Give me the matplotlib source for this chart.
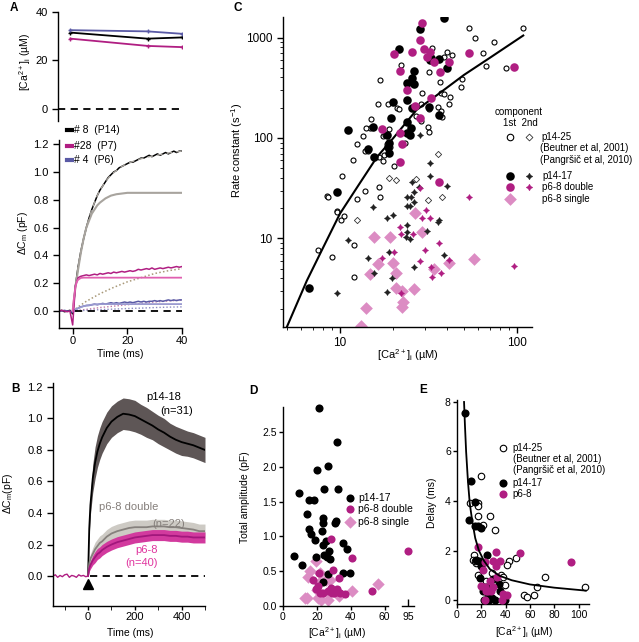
import numpy as np
import matplotlib
matplotlib.use("Agg")
import matplotlib.pyplot as plt
from matplotlib.ticker import FixedLocator, NullFormatter, FormatStrFormatter, LogLocator

plt.rcParams['font.family'] = ['Liberation Sans', 'DejaVu Sans']
plt.rcParams['mathtext.fontset'] = 'custom'
plt.rcParams['mathtext.rm'] = 'Liberation Sans'
plt.rcParams['mathtext.it'] = 'Liberation Sans'
plt.rcParams['axes.linewidth'] = 1.0
plt.rcParams['xtick.major.width'] = 1.0
plt.rcParams['ytick.major.width'] = 1.0

MAG = '#b01e82'
PINK = '#dc8cc3'
BLUE = '#5a5aa5'
GRAYFIT = '#a8a49e'

# ---------------- panel A: [Ca]i over time
ca_t = [-0.5, 27.5, 40]
ca_p14 = [31.5, 29.0, 29.5]
ca_p7 = [29.0, 26.0, 25.5]
ca_p6 = [32.5, 32.0, 31.0]

# ---------------- panel A: capacitance traces
ta = np.arange(-5, 41)
cm_p14 = [0, 0.005, -0.005, 0, 0.005, -0.02, 0.18, 0.32, 0.43, 0.52, 0.60, 0.67, 0.73, 0.78, 0.83,
          0.87, 0.90, 0.93, 0.96, 0.98, 1.00, 1.01, 1.03, 1.04, 1.05, 1.06, 1.07, 1.07, 1.08, 1.09,
          1.10, 1.10, 1.11, 1.12, 1.11, 1.12, 1.13, 1.12, 1.13, 1.14, 1.13, 1.14, 1.15, 1.14, 1.15, 1.15]
cm_p7 = [0, 0.005, 0, -0.005, 0, -0.10, 0.18, 0.24, 0.25, 0.255, 0.26, 0.255, 0.26, 0.265, 0.26,
         0.27, 0.265, 0.27, 0.275, 0.27, 0.28, 0.275, 0.28, 0.285, 0.28, 0.285, 0.29, 0.285, 0.29, 0.30,
         0.295, 0.30, 0.305, 0.30, 0.31, 0.30, 0.305, 0.31, 0.305, 0.31, 0.315, 0.31, 0.315, 0.32, 0.315, 0.32]
cm_p6 = [0, 0, 0.005, 0, 0, -0.01, 0.01, 0.02, 0.03, 0.035, 0.04, 0.04, 0.045, 0.05, 0.045,
         0.05, 0.055, 0.05, 0.055, 0.06, 0.055, 0.06, 0.055, 0.06, 0.065, 0.06, 0.065, 0.06, 0.065, 0.07,
         0.065, 0.07, 0.065, 0.07, 0.07, 0.075, 0.07, 0.075, 0.07, 0.075, 0.08, 0.075, 0.08, 0.075, 0.08, 0.08]
fit_t = [0, 1, 2, 3, 4, 5, 6, 7, 8, 9, 10, 12, 14, 16, 18, 20, 24, 28, 32, 36, 40]
fit2_p14 = [0, 0.18, 0.32, 0.43, 0.52, 0.60, 0.67, 0.73, 0.78, 0.83, 0.87, 0.93, 0.98, 1.01, 1.04,
            1.06, 1.09, 1.11, 1.125, 1.14, 1.15]
fit1_p14 = [0, 0.17, 0.30, 0.42, 0.52, 0.60, 0.65, 0.70, 0.73, 0.76, 0.78, 0.81, 0.83, 0.84, 0.845,
            0.85, 0.85, 0.85, 0.85, 0.85, 0.85]
slow_t = [0, 2, 5, 10, 15, 20, 25, 30, 35, 40]
slow_p14 = [0, 0.03, 0.07, 0.125, 0.17, 0.21, 0.24, 0.27, 0.29, 0.305]
slow_p7 = [0, 0.005, 0.012, 0.025, 0.035, 0.045, 0.055, 0.065, 0.072, 0.08]
slow_p6 = [0, 0.002, 0.005, 0.01, 0.014, 0.018, 0.021, 0.025, 0.028, 0.03]
fast_t = [0, 0.5, 1, 1.5, 2, 3, 4, 6, 8, 10, 40]
fast_p7 = [0, 0.10, 0.17, 0.21, 0.225, 0.238, 0.24, 0.24, 0.24, 0.24, 0.24]
fast_p6 = [0, 0.006, 0.011, 0.015, 0.02, 0.028, 0.035, 0.043, 0.048, 0.05, 0.05]

# ---------------- panel B: averaged traces
tb_base = [-150, -140, -130, -120, -110, -100, -90, -80, -70, -60, -50, -40, -30, -20, -10, 0]
base_b = [0, 0.008, -0.008, 0.004, -0.004, 0.008, 0.012, -0.008, 0.004, 0, -0.008, 0.008, 0, 0.004, -0.004, 0]
tb = [0, 5, 10, 20, 30, 40, 50, 60, 80, 100, 125, 150, 175, 200, 225, 250, 275, 300, 325, 350,
      375, 400, 425, 450, 475, 500]
mean_p14 = [0, 0.30, 0.45, 0.62, 0.72, 0.79, 0.84, 0.88, 0.94, 0.98, 1.01, 1.03, 1.025, 1.015, 0.995,
            0.975, 0.955, 0.93, 0.91, 0.885, 0.865, 0.85, 0.84, 0.83, 0.815, 0.80]
sem_p14 = [0, 0.04, 0.06, 0.09, 0.10, 0.10, 0.10, 0.10, 0.10, 0.10, 0.10, 0.10, 0.10, 0.10, 0.095,
           0.095, 0.09, 0.09, 0.09, 0.085, 0.085, 0.085, 0.08, 0.08, 0.08, 0.08]
mean_dbl = [0, 0.08, 0.11, 0.14, 0.17, 0.19, 0.21, 0.22, 0.25, 0.27, 0.285, 0.295, 0.305, 0.31, 0.31,
            0.31, 0.315, 0.315, 0.315, 0.31, 0.31, 0.305, 0.30, 0.295, 0.285, 0.285]
sem_dbl = [0, 0.02, 0.03, 0.04, 0.045, 0.045, 0.045, 0.045, 0.045, 0.045, 0.045, 0.045, 0.045, 0.045,
           0.045, 0.045, 0.045, 0.045, 0.045, 0.045, 0.045, 0.045, 0.045, 0.045, 0.045, 0.045]
mean_p68 = [0, 0.05, 0.07, 0.10, 0.12, 0.14, 0.15, 0.165, 0.185, 0.20, 0.215, 0.225, 0.235, 0.245, 0.25,
            0.255, 0.26, 0.26, 0.26, 0.255, 0.255, 0.25, 0.25, 0.245, 0.245, 0.245]
sem_p68 = [0, 0.02, 0.025, 0.03, 0.035, 0.035, 0.035, 0.035, 0.035, 0.035, 0.035, 0.035, 0.035, 0.035,
           0.035, 0.035, 0.035, 0.035, 0.035, 0.035, 0.035, 0.035, 0.035, 0.035, 0.035, 0.035]

# ---------------- panel C: rate constants vs [Ca]i
c_op_x = [53.5, 57.7, 73.5, 107.6, 64, 66.8, 86.3, 40, 42.7, 38.8, 33, 31.7, 36.7, 37, 38.5, 41.8, 49,
          48, 41.3, 35.9, 37.2, 37.8, 31.7, 31.4, 31.8, 28.9, 28.8, 27, 28.6, 22.2, 16.9, 16.3, 18.7,
          21, 21.5, 14.9, 14.8, 14.1, 13.5, 12.5, 13.8, 14.3, 17.7, 17.4, 18.9, 18, 18.5, 19.1, 18.7,
          16.7, 17.4, 20.2, 23.2, 16.5, 16.9, 13.8, 11.8, 12.5, 10.3, 8.45, 8.55, 9.6, 9.65, 10.1,
          10.6, 12, 7.54, 9.05, 12]
c_op_y = [1253, 996, 909, 1253, 706, 521, 501, 712, 670, 635, 780, 457, 364, 278, 272, 258, 384, 324,
          218, 202, 187, 161, 194, 128, 114, 282, 218, 166, 148, 533, 378, 218, 218, 200, 194, 155,
          127, 126, 105, 87, 73.6, 73.6, 67.8, 105, 123, 107, 87, 80.7, 77, 65, 58.6, 53, 88.5, 32.3,
          26.1, 29.5, 61, 24.5, 41.9, 26.5, 26, 18.9, 18.2, 15.2, 16.7, 8.6, 7.6, 6.5, 4.1]
c_od_x = [18.8, 20.6, 26.9, 35.6, 37.6, 31.2, 12.5]
c_od_y = [39.7, 38.2, 39.2, 69.3, 25.9, 24.2, 15.4]
c_bc_x = [38.8, 28.3, 21.5, 32, 32.8, 36.1, 40, 26.3, 25.6, 23.8, 26.3, 19.9, 23.9, 25.6, 31.7, 36.3,
          19.5, 23.9, 25, 23.8, 24.8, 11.1, 15.4, 14.3, 15.5, 18.4, 18.8, 19, 18.7, 9.65, 6.65]
c_bc_y = [1575, 1215, 769, 597, 621, 607, 493, 464, 396, 350, 342, 226, 239, 197, 205, 169, 157, 144,
          125, 111, 107, 121, 129, 77, 65, 107, 88.5, 71.4, 82, 28.8, 3.2]
c_mc_x = [29, 28.3, 20.1, 25.6, 29.8, 32.2, 30.9, 33.7, 36.7, 41.4, 53.1, 96, 21.7, 23.8, 26.5, 32.8,
          28.3, 17.3, 21.8, 22.4, 21.9, 36.3]
c_mc_y = [1384, 944, 685, 723, 763, 723, 645, 575, 457, 575, 706, 513, 468, 300, 210, 248, 157, 124,
          111, 86.5, 57.3, 36.8]
c_bs_x = [28.3, 32, 40, 25.5, 27.8, 26.3, 24, 25.3, 15.4, 19.9, 18.5, 23.8, 24.9, 26.3, 36.1, 35.9,
          23.8, 30.9, 23.8, 11.1, 24.9, 23.6, 18.9, 14.3, 38.5, 15.5, 19.6, 26.3, 18.4, 9.65, 32]
c_bs_y = [107, 57, 33.6, 36.2, 32.3, 28.8, 25.7, 25.7, 20.7, 17.3, 15.9, 21.1, 21.1, 23.3, 15.3, 14.7,
          13.6, 12, 11.5, 9.7, 9.8, 10.4, 7.4, 6.45, 6.85, 4.54, 4.04, 5.25, 2.95, 2.85, 42]
c_ms_x = [28.3, 30.6, 32.3, 29.1, 21.8, 25.7, 22.1, 36.1, 20.1, 17.3, 28.2, 41.1, 32.6, 33, 36.9, 22,
          95.7, 53.1, 30.3]
c_ms_y = [31.6, 19.2, 15.9, 15.9, 13, 11.2, 11.1, 8.95, 7.3, 6.35, 5.9, 6.1, 5.25, 4.1, 4.5, 2.85,
          5.3, 25.8, 7.7]
c_pd_x = [26.5, 15.5, 19.1, 29.1, 16.4, 20, 14.7, 20.8, 41.1, 33.8, 56.9, 20.8, 22.3, 26.2, 22.7,
          22.3, 14.1, 13.1]
c_pd_y = [17.8, 10.3, 10.4, 11.7, 5.6, 5.75, 4.48, 4.54, 5.66, 4.93, 6.2, 3.24, 3.0, 3.12, 2.35,
          2.06, 2.05, 1.35]
c_fit_x = [5, 6, 6.5, 8, 10, 13, 16.2, 20, 27, 35, 50, 70, 108]
c_fit_y = [1.3, 2.74, 3.8, 8.0, 17.7, 36, 65, 100, 190, 265, 424, 628, 1047]

# ---------------- panel D: total amplitude
d_b_x = [21.4, 31.8, 19.8, 26.3, 24.5, 32.2, 9.6, 15.3, 18.4, 14.1, 23.5, 23.5, 31, 30.6, 15.5, 16.5,
         23.3, 18.6, 25.4, 23.5, 35.7, 38, 26.9, 6.5, 19.6, 24.5, 28, 11.4, 26.7, 35.7, 39.6, 23.5, 25.9]
d_b_y = [2.85, 2.36, 1.96, 2.01, 1.68, 1.68, 1.63, 1.53, 1.53, 1.32, 1.26, 1.19, 1.22, 1.19, 1.10, 1.03,
         1.08, 0.95, 0.93, 0.87, 0.90, 0.82, 0.79, 0.72, 0.71, 0.73, 0.67, 0.59, 0.46, 0.47, 0.47, 0.34,
         0.71]
d_m_x = [28.2, 40.8, 21.4, 17.5, 29.8, 20.9, 33.3, 19.6, 23.9, 26.5, 28.2, 31.6, 32.7, 30.2, 33.7,
         36.7, 52.7, 22, 28.8]
d_m_y = [0.97, 0.69, 0.48, 0.375, 0.52, 0.29, 0.40, 0.25, 0.19, 0.22, 0.26, 0.24, 0.20, 0.18, 0.19,
         0.17, 0.22, 0.19, 0.19]
d_m95_x = [95]
d_m95_y = [0.79]
d_p_x = [19.2, 16.1, 14.5, 22, 25.5, 27.8, 21.2, 20, 20.6, 22.4, 26.3, 12.9, 14.1, 41, 56.3, 33.1]
d_p_y = [0.64, 0.5, 0.41, 0.47, 0.38, 0.37, 0.33, 0.23, 0.11, 0.08, 0.08, 0.12, 0.11, 0.21, 0.32, 0.14]

# ---------------- panel E: delay
e_o_x = [19.9, 10.4, 17.2, 17.2, 17.5, 27.3, 21, 31.1, 13.9, 13.1, 15.3, 42.6, 41, 48.6, 16.9, 29,
         36.6, 37.7, 39.9, 55.5, 57.4, 63.1, 65.6, 72.4, 105, 24, 18.6, 14.8]
e_o_y = [5.01, 3.93, 3.9, 3.79, 3.41, 3.41, 3.02, 2.82, 1.83, 1.6, 1.49, 1.57, 1.4, 1.71, 1.03, 1.11,
         1.03, 0.92, 0.62, 0.22, 0.11, 0.22, 0.54, 0.92, 0.51, 0.76, 1.53, 1.56]
e_b_x = [6.6, 11.2, 14.5, 9.8, 15, 19.4, 16.9, 24.9, 15.8, 18, 19.9, 19.1, 29.5, 34.4, 21.3, 25.4, 29,
         22.1, 26.2, 30.9, 39.9, 35.5, 24]
e_b_y = [7.55, 4.82, 3.97, 3.22, 3.0, 2.91, 2.98, 1.83, 1.6, 1.57, 1.37, 0.89, 0.85, 0.65, 0.35, 0.24,
         0.08, 0.0, 0.0, 0.0, 0.0, 0.38, 0.51]
e_m_x = [17.2, 32.2, 51.9, 94, 22.7, 29.5, 35.5, 31.7, 21.3, 33, 19.9, 22.7, 25.4, 28.1, 30, 37.7, 41,
         22.7, 37.2, 26.8, 23.5]
e_m_y = [2.14, 1.94, 1.91, 1.52, 1.53, 1.56, 1.57, 1.36, 1.22, 0.95, 0.57, 0.51, 0.38, 0.35, 0.51, 0.24,
         0.22, 0.0, 0.0, 0.76, 0.35]
e_fit_x = [5.8, 6.5, 7.5, 9, 10.5, 12.5, 15, 18, 22, 27, 35, 45, 60, 80, 106]
e_fit_y = [8.0, 7.1, 6.0, 4.8, 3.9, 3.2, 2.5, 2.0, 1.6, 1.25, 0.98, 0.8, 0.63, 0.5, 0.38]

W, H = 639, 642
fig = plt.figure(figsize=(W / 100, H / 100), dpi=100)


def px_axes(x0, y0, x1, y1):
    ax = fig.add_axes([x0 / W, 1 - y1 / H, (x1 - x0) / W, (y1 - y0) / H])
    ax.spines['top'].set_visible(False)
    ax.spines['right'].set_visible(False)
    ax.patch.set_alpha(0)
    return ax


CA_LABEL = r'[Ca$^{2+}$]$_{\rm i}$ (µM)'
STAR = (4, 1, 0)

# ===== A top
ax = px_axes(58, 12, 182, 121)
ax.plot(ca_t, ca_p14, color='black', lw=1.3, marker='+', ms=3)
ax.plot(ca_t, ca_p6, color=BLUE, lw=1.3, marker='+', ms=3)
ax.plot(ca_t, ca_p7, color=MAG, lw=1.3, marker='+', ms=3)
ax.plot([-5, 40], [0, 0], color='black', lw=1.3, ls=(0, (4, 3)))
ax.set_xlim(-5, 40)
ax.set_ylim(-5, 40)
ax.spines['bottom'].set_visible(False)
ax.set_xticks([])
ax.set_yticks([0, 20, 40])
ax.tick_params(labelsize=8, length=4)
fig.text(25 / W, 1 - 62 / H, CA_LABEL, rotation=90, ha='center', va='center', fontsize=7.5)
fig.text(14 / W, 1 - 8 / H, 'A', fontsize=8.5, fontweight='bold', ha='center', va='center')

# ===== A bottom
ax = px_axes(59, 140, 182, 328)
ax.plot(slow_t, slow_p14, color='#a89878', lw=1.1, ls=(0, (1, 1.5)))
ax.plot(slow_t, slow_p7, color='#c07aa8', lw=1.0, ls=(0, (1, 1.5)))
ax.plot(slow_t, slow_p6, color='#8a8ac0', lw=1.0, ls=(0, (1, 1.5)))
ax.plot(ta, cm_p14, color='black', lw=1.1)
ax.plot(fit_t, fit2_p14, color=GRAYFIT, lw=1.0, ls=(0, (4, 3)))
ax.plot(fit_t, fit1_p14, color=GRAYFIT, lw=1.5)
ax.plot(ta, cm_p6, color=BLUE, lw=1.1)
ax.plot(fast_t, fast_p6, color='#9a9ad0', lw=1.3)
ax.plot(ta, cm_p7, color=MAG, lw=1.1)
ax.plot(fast_t, fast_p7, color='#e060b0', lw=1.3)
ax.plot([1, 40], [0, 0], color='black', lw=1.3, ls=(0, (4, 3)))
ax.set_xlim(-5, 40)
ax.set_ylim(-0.122, 1.23)
ax.set_xticks([0, 20, 40])
ax.set_yticks([0.0, 0.2, 0.4, 0.6, 0.8, 1.0, 1.2])
ax.yaxis.set_major_formatter(FormatStrFormatter('%.1f'))
ax.tick_params(labelsize=8, length=4)
ax.tick_params(axis='x', pad=2)
for i, (lab, col) in enumerate([('# 8  (P14)', 'black'), ('#28  (P7)', MAG), ('# 4  (P6)', BLUE)]):
    yy = [1.053, 0.968, 0.894][i]
    ax.plot([0.065, 0.106], [yy, yy], color=col, lw=3, transform=ax.transAxes, clip_on=False)
    ax.text(0.125, yy, lab, transform=ax.transAxes, fontsize=7.5, va='center', ha='left')
fig.text(23 / W, 1 - 233 / H, r'$\Delta$C$_{\rm m}$ (pF)', rotation=90, ha='center', va='center',
         fontsize=7.5)
fig.text(120 / W, 1 - 354 / H, 'Time (ms)', ha='center', va='center', fontsize=7.5)

# ===== B
ax = px_axes(53, 383, 205, 606)
ax.fill_between(tb, np.array(mean_p14) - np.array(sem_p14), np.array(mean_p14) + np.array(sem_p14),
                color='#5e5656', lw=0)
ax.plot(tb, mean_p14, color='black', lw=1.3)
ax.fill_between(tb, np.array(mean_dbl) - np.array(sem_dbl), np.array(mean_dbl) + np.array(sem_dbl),
                color='#cdcac4', lw=0)
ax.plot(tb, mean_dbl, color='#86817d', lw=1.3)
ax.fill_between(tb, np.array(mean_p68) - np.array(sem_p68), np.array(mean_p68) + np.array(sem_p68),
                color='#d23a9e', lw=0)
ax.plot(tb, mean_p68, color='#a2177c', lw=1.3)
ax.plot(tb_base, base_b, color=MAG, lw=1.0)
ax.plot([10, 500], [0, 0], color='black', lw=1.3, ls=(0, (4, 3)))
ax.plot([0], [-0.05], marker='^', color='black', ms=7, clip_on=False)
ax.set_xlim(-150, 500)
ax.set_ylim(-0.19, 1.225)
ax.set_xticks([0, 200, 400])
ax.xaxis.set_minor_locator(FixedLocator([-100, 100, 300, 500]))
ax.set_yticks([0.0, 0.2, 0.4, 0.6, 0.8, 1.0, 1.2])
ax.yaxis.set_major_formatter(FormatStrFormatter('%.1f'))
ax.tick_params(labelsize=8, length=4)
ax.tick_params(axis='x', which='both', length=3, pad=1.5)
ax.text(323, 1.137, 'p14-18', ha='center', va='center', fontsize=8)
ax.text(379, 1.048, '(n=31)', ha='center', va='center', fontsize=8)
ax.text(174, 0.438, 'p6-8 double', ha='center', va='center', fontsize=8, color='#857f7b')
ax.text(345, 0.33, '(n=22)', ha='center', va='center', fontsize=8, color='#857f7b')
ax.text(251, 0.165, 'p6-8', ha='center', va='center', fontsize=8, color='#e0359f')
ax.text(230, 0.083, '(n=40)', ha='center', va='center', fontsize=8, color='#e0359f')
fig.text(8 / W, 1 - 493 / H, r'$\Delta$C$_{\rm m}$(pF)', rotation=90, ha='center', va='center',
         fontsize=7.5)
fig.text(130 / W, 1 - 633 / H, 'Time (ms)', ha='center', va='center', fontsize=7.5)
fig.text(15 / W, 1 - 389 / H, 'B', fontsize=8.5, fontweight='bold', ha='center', va='center')

# ===== C
ax = px_axes(283, 17, 532, 327)
ax.set_xscale('log')
ax.set_yscale('log')
ax.plot(c_fit_x, c_fit_y, color='black', lw=1.5, zorder=3)
ax.scatter(c_op_x, c_op_y, s=13, facecolors='white', edgecolors='black', linewidths=0.8, zorder=2)
ax.scatter(c_od_x, c_od_y, s=10, marker='D', facecolors='white', edgecolors='#333333', linewidths=0.6,
           zorder=2)
ax.scatter(c_pd_x, c_pd_y, s=42, marker='D', color=PINK, lw=0, zorder=2)
ax.scatter(c_bs_x, c_bs_y, s=16, marker=STAR, color='#222222', edgecolors='#222222', lw=0.7, zorder=4)
ax.scatter(c_ms_x, c_ms_y, s=16, marker=STAR, color=MAG, edgecolors=MAG, lw=0.7, zorder=4)
ax.scatter(c_bc_x, c_bc_y, s=38, color='black', lw=0, zorder=4)
ax.scatter(c_mc_x, c_mc_y, s=38, color=MAG, lw=0, zorder=4)
ax.set_xlim(4.77, 121)
ax.set_ylim(1.315, 1600)
ax.xaxis.set_major_locator(FixedLocator([10, 100]))
ax.xaxis.set_minor_locator(LogLocator(base=10, subs=np.arange(2, 10)))
ax.xaxis.set_major_formatter(FormatStrFormatter('%d'))
ax.xaxis.set_minor_formatter(NullFormatter())
ax.yaxis.set_major_locator(FixedLocator([10, 100, 1000]))
ax.yaxis.set_minor_locator(LogLocator(base=10, subs=np.arange(2, 10)))
ax.yaxis.set_major_formatter(FormatStrFormatter('%d'))
ax.yaxis.set_minor_formatter(NullFormatter())
ax.tick_params(labelsize=8.5, length=4)
ax.tick_params(which='minor', length=2.5)
tr = ax.transAxes
lf = 7
ax.text(0.851, 0.694, 'component', transform=tr, fontsize=lf, va='center')
ax.text(0.884, 0.658, '1st  2nd', transform=tr, fontsize=lf, va='center')
ax.scatter([0.912], [0.613], s=22, facecolors='white', edgecolors='black', linewidths=0.8,
           transform=tr, clip_on=False)
ax.scatter([0.988], [0.613], s=12, marker='D', facecolors='white', edgecolors='#333333',
           linewidths=0.6, transform=tr, clip_on=False)
ax.text(1.036, 0.613, 'p14-25', transform=tr, fontsize=lf, va='center')
ax.text(1.032, 0.577, '(Beutner et al, 2001)', transform=tr, fontsize=lf, va='center')
ax.text(1.032, 0.539, '(Pangršič et al, 2010)', transform=tr, fontsize=lf, va='center')
ax.scatter([0.912], [0.487], s=38, color='black', lw=0, transform=tr, clip_on=False)
ax.scatter([0.988], [0.487], s=18, marker=STAR, color='#222222', edgecolors='#222222', lw=0.7,
           transform=tr, clip_on=False)
ax.text(1.04, 0.487, 'p14-17', transform=tr, fontsize=lf, va='center')
ax.scatter([0.912], [0.452], s=38, color=MAG, lw=0, transform=tr, clip_on=False)
ax.scatter([0.988], [0.452], s=18, marker=STAR, color=MAG, edgecolors=MAG, lw=0.7, transform=tr,
           clip_on=False)
ax.text(1.04, 0.452, 'p6-8 double', transform=tr, fontsize=lf, va='center')
ax.scatter([0.912], [0.413], s=42, marker='D', color=PINK, lw=0, transform=tr, clip_on=False)
ax.text(1.04, 0.413, 'p6-8 single', transform=tr, fontsize=lf, va='center')
fig.text(237 / W, 1 - 150 / H, r'Rate constant (s$^{-1}$)', rotation=90, ha='center', va='center',
         fontsize=8)
fig.text(408 / W, 1 - 355 / H, CA_LABEL, ha='center', va='center', fontsize=8)
fig.text(238 / W, 1 - 8 / H, 'C', fontsize=8.5, fontweight='bold', ha='center', va='center')

# ===== D
ax = px_axes(283, 407, 388, 606)
ax.scatter(d_b_x, d_b_y, s=34, color='black', lw=0, clip_on=False, zorder=3)
ax.scatter(d_p_x, d_p_y, s=40, marker='D', color=PINK, lw=0, clip_on=False, zorder=2)
ax.scatter(d_m_x, d_m_y, s=34, color=MAG, lw=0, clip_on=False, zorder=3)
ax.set_xlim(0, 62)
ax.set_ylim(0, 2.86)
ax.set_xticks([0, 20, 40, 60])
ax.set_yticks([0.0, 0.5, 1.0, 1.5, 2.0, 2.5])
ax.yaxis.set_major_formatter(FormatStrFormatter('%.1f'))
ax.tick_params(labelsize=7.5, length=3, pad=1.5)
tr = ax.transAxes
ax.scatter([0.638], [0.541], s=34, color='black', lw=0, transform=tr, clip_on=False)
ax.text(0.714, 0.541, 'p14-17', transform=tr, fontsize=7.5, va='center')
ax.scatter([0.638], [0.485], s=34, color=MAG, lw=0, transform=tr, clip_on=False)
ax.text(0.714, 0.485, 'p6-8 double', transform=tr, fontsize=7.5, va='center')
ax.scatter([0.638], [0.424], s=40, marker='D', color=PINK, lw=0, transform=tr, clip_on=False)
ax.text(0.714, 0.424, 'p6-8 single', transform=tr, fontsize=7.5, va='center')
fig.text(245 / W, 1 - 497 / H, 'Total amplitude (pF)', rotation=90, ha='center', va='center',
         fontsize=7.5)
fig.text(337 / W, 1 - 633 / H, CA_LABEL, ha='center', va='center', fontsize=7.5)
fig.text(253 / W, 1 - 391 / H, 'D', fontsize=8.5, fontweight='bold', ha='center', va='center')

ax95 = px_axes(402, 407, 414, 606)
ax95.spines['left'].set_visible(False)
ax95.scatter(d_m95_x, d_m95_y, s=34, color=MAG, lw=0, clip_on=False)
ax95.set_xlim(92.5, 97.5)
ax95.set_ylim(0, 2.86)
ax95.set_xticks([95])
ax95.set_yticks([])
ax95.tick_params(axis='x', direction='in', labelsize=7.5, length=5, pad=4)

# ===== E
ax = px_axes(457, 400, 589, 604)
ax.plot(e_fit_x, e_fit_y, color='black', lw=1.3, zorder=4)
ax.scatter(e_o_x, e_o_y, s=22, facecolors='white', edgecolors='black', linewidths=0.8, clip_on=False,
           zorder=2)
ax.scatter(e_b_x, e_b_y, s=34, color='black', lw=0, clip_on=False, zorder=3)
ax.scatter(e_m_x, e_m_y, s=34, color=MAG, lw=0, clip_on=False, zorder=3)
ax.set_xlim(0, 108.6)
ax.set_ylim(-0.16, 8.08)
ax.set_xticks([0, 20, 40, 60, 80, 100])
ax.set_yticks([0, 2, 4, 6, 8])
ax.tick_params(labelsize=7.5, length=3, pad=1.5)
tr = ax.transAxes
ax.scatter([0.348], [0.764], s=22, facecolors='white', edgecolors='black', linewidths=0.8,
           transform=tr, clip_on=False)
ax.text(0.417, 0.764, 'p14-25', transform=tr, fontsize=7, va='center')
ax.text(0.424, 0.709, '(Beutner et al, 2001)', transform=tr, fontsize=7, va='center')
ax.text(0.424, 0.655, '(Pangršič et al, 2010)', transform=tr, fontsize=7, va='center')
ax.scatter([0.348], [0.591], s=34, color='black', lw=0, transform=tr, clip_on=False)
ax.text(0.417, 0.591, 'p14-17', transform=tr, fontsize=7, va='center')
ax.scatter([0.348], [0.537], s=34, color=MAG, lw=0, transform=tr, clip_on=False)
ax.text(0.417, 0.537, 'p6-8', transform=tr, fontsize=7, va='center')
fig.text(432 / W, 1 - 503 / H, 'Delay (ms)', rotation=90, ha='center', va='center', fontsize=7.5)
fig.text(524 / W, 1 - 632 / H, CA_LABEL, ha='center', va='center', fontsize=7.5)
fig.text(423 / W, 1 - 390 / H, 'E', fontsize=8.5, fontweight='bold', ha='center', va='center')

fig.savefig('out.png', dpi=100)
